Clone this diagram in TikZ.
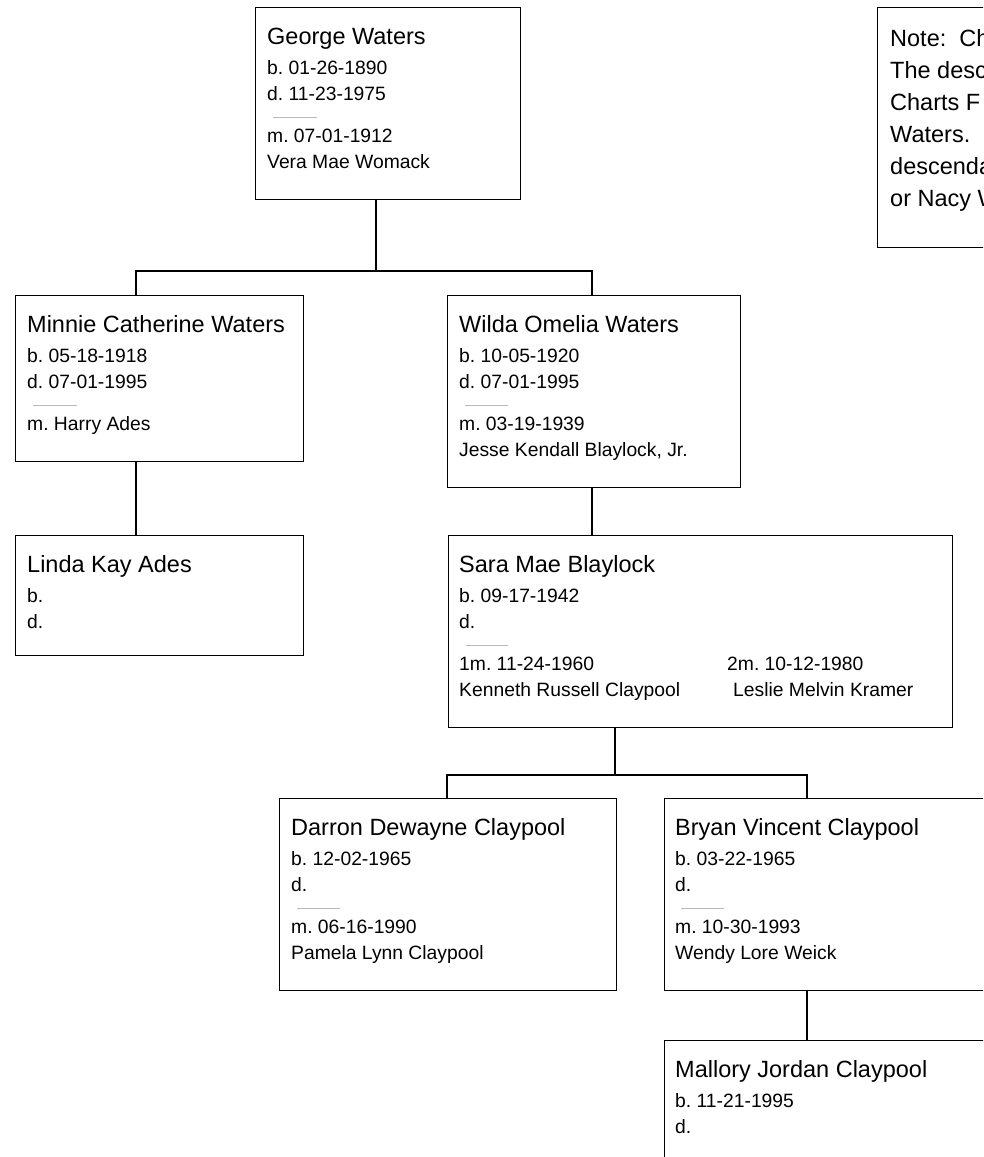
\documentclass[tikz,border=0pt]{standalone}
\usepackage{fontspec}
\setmainfont{Liberation Sans}
\frenchspacing
\begin{document}
\begin{tikzpicture}[x=1pt, y=-1pt,
    person/.style={draw, line width=1.4pt, anchor=north west, inner sep=0pt},
    title/.style={anchor=base west, inner sep=0pt, font=\fontsize{23.5}{26}\selectfont},
    info/.style={anchor=base west, inner sep=0pt, font=\fontsize{19.3}{22}\selectfont},
    rule/.style={gray!55, line width=0.9pt},
    link/.style={line width=1.4pt}]
    \useasboundingbox (0,0) rectangle (983,1157);
    \clip (0,0) rectangle (983,1157);

    % Kaesten
    \node[person, minimum width=265, minimum height=192] (george) at (255,7) {};
    \node[person, minimum width=200, minimum height=240] (note) at (877,7) {};
    \node[person, minimum width=288, minimum height=166] (minnie) at (15,295) {};
    \node[person, minimum width=293, minimum height=192] (wilda) at (447,295) {};
    \node[person, minimum width=288, minimum height=120] (linda) at (15,535) {};
    \node[person, minimum width=504, minimum height=192] (sara) at (448,535) {};
    \node[person, minimum width=337, minimum height=192] (darron) at (279,798) {};
    \node[person, minimum width=400, minimum height=192] (bryan) at (664,798) {};
    \node[person, minimum width=400, minimum height=200] (mallory) at (664,1040) {};

    % George Waters
    \node[title] (george-name) at (267,44) {George Waters};
    \foreach \y/\t [count=\i] in {74/b. 01-26-1890, 100/d. 11-23-1975, 142/m. 07-01-1912, 168/Vera Mae Womack}
        \node[info] (george-\i) at (267,\y) {\t};
    \draw[rule] (273,117) -- (317,117);

    % Notiz
    \foreach \y/\t [count=\i] in {46/Note:\ \ Ch, 78/The desc, 110/Charts F, 142/Waters., 174/descenda, 206/or Nacy W}
        \node[title] (note-\i) at (890,\y) {\t};

    % Minnie Catherine Waters
    \node[title] (minnie-name) at (27,332) {Minnie Catherine Waters};
    \foreach \y/\t [count=\i] in {362/b. 05-18-1918, 388/d. 07-01-1995, 430/m. Harry Ades}
        \node[info] (minnie-\i) at (27,\y) {\t};
    \draw[rule] (33,405) -- (77,405);

    % Wilda Omelia Waters
    \node[title] (wilda-name) at (459,332) {Wilda Omelia Waters};
    \foreach \y/\t [count=\i] in {362/b. 10-05-1920, 388/d. 07-01-1995, 430/m. 03-19-1939, 456/{Jesse Kendall Blaylock, Jr.}}
        \node[info] (wilda-\i) at (459,\y) {\t};
    \draw[rule] (465,405) -- (508,405);

    % Linda Kay Ades
    \node[title] (linda-name) at (27,572) {Linda Kay Ades};
    \foreach \y/\t [count=\i] in {602/b., 628/d.}
        \node[info] (linda-\i) at (27,\y) {\t};

    % Sara Mae Blaylock
    \node[title] (sara-name) at (459,572) {Sara Mae Blaylock};
    \foreach \y/\t [count=\i] in {602/b. 09-17-1942, 628/d., 670/1m. 11-24-1960, 696/Kenneth Russell Claypool}
        \node[info] (sara-\i) at (459,\y) {\t};
    \node[info] (sara-m2) at (727,670) {2m. 10-12-1980};
    \node[info] (sara-sp2) at (733,696) {Leslie Melvin Kramer};
    \draw[rule] (466,645) -- (508,645);

    % Darron Dewayne Claypool
    \node[title] (darron-name) at (291,835) {Darron Dewayne Claypool};
    \foreach \y/\t [count=\i] in {865/b. 12-02-1965, 891/d., 933/m. 06-16-1990, 959/Pamela Lynn Claypool}
        \node[info] (darron-\i) at (291,\y) {\t};
    \draw[rule] (297,908) -- (340,908);

    % Bryan Vincent Claypool
    \node[title] (bryan-name) at (675,835) {Bryan Vincent Claypool};
    \foreach \y/\t [count=\i] in {865/b. 03-22-1965, 891/d., 933/m. 10-30-1993, 959/Wendy Lore Weick}
        \node[info] (bryan-\i) at (675,\y) {\t};
    \draw[rule] (681,908) -- (724,908);

    % Mallory Jordan Claypool
    \node[title] (mallory-name) at (675,1077) {Mallory Jordan Claypool};
    \foreach \y/\t [count=\i] in {1107/b. 11-21-1995, 1133/d.}
        \node[info] (mallory-\i) at (675,\y) {\t};

    % Verbindungen
    \coordinate (bus1-l) at (136,271);
    \coordinate (bus1-m) at (376,271);
    \coordinate (bus1-r) at (592,271);
    \draw[link] (george.south -| bus1-m) -- (bus1-m);
    \draw[link] (bus1-l |- minnie.north) -- (bus1-l) -- (bus1-r) -- (bus1-r |- wilda.north);
    \draw[link] (minnie.south -| bus1-l) -- (bus1-l |- linda.north);
    \draw[link] (wilda.south -| bus1-r) -- (bus1-r |- sara.north);

    \coordinate (bus2-l) at (447,775);
    \coordinate (bus2-m) at (615,775);
    \coordinate (bus2-r) at (807,775);
    \draw[link] (sara.south -| bus2-m) -- (bus2-m);
    \draw[link] (bus2-l |- darron.north) -- (bus2-l) -- (bus2-r) -- (bus2-r |- bryan.north);
    \draw[link] (bryan.south -| bus2-r) -- (bus2-r |- mallory.north);
\end{tikzpicture}
\end{document}
